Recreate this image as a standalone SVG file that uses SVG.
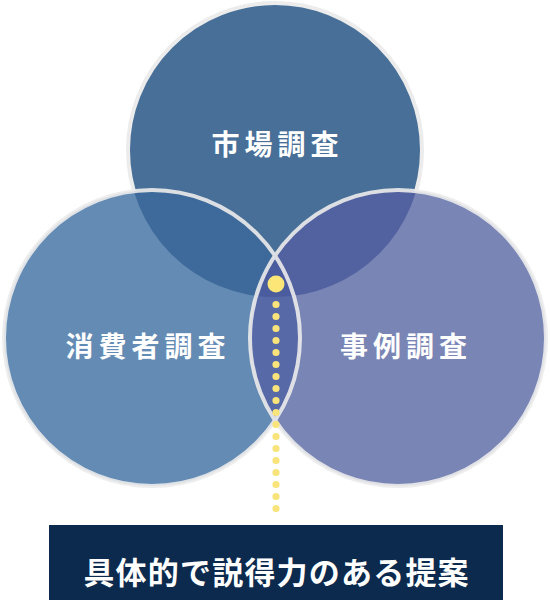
<svg xmlns="http://www.w3.org/2000/svg" width="550" height="602" viewBox="0 0 550 602">
  <style>
    .lbl { font-family: "Noto Sans CJK JP", "Noto Sans", sans-serif; font-weight: 700; fill: #ffffff; text-anchor: middle; }
    .circ { font-size: 28px; letter-spacing: 5px; }
    .ring { fill: none; stroke: #ececec; stroke-width: 4; }
  </style>
  <defs>
    <clipPath id="cTop"><circle cx="275" cy="150" r="147"/></clipPath>
    <clipPath id="cLeft"><circle cx="152" cy="338" r="148"/></clipPath>
    <clipPath id="cRight"><circle cx="398" cy="338" r="148"/></clipPath>
  </defs>
  <rect width="550" height="602" fill="#ffffff"/>

  <g id="market-research">
    <circle cx="275" cy="150" r="147" fill="#476f97" stroke="#ececec" stroke-width="4"/>
  </g>
  <g id="consumer-research">
    <circle cx="152" cy="338" r="148" fill="#648bb4"/>
  </g>
  <g id="case-research">
    <circle cx="398" cy="338" r="148" fill="#7985b5"/>
  </g>

  <g id="overlaps">
    <circle cx="152" cy="338" r="148" fill="#3e6a9b" clip-path="url(#cTop)"/>
    <circle cx="398" cy="338" r="148" fill="#5261a0" clip-path="url(#cTop)"/>
    <circle cx="398" cy="338" r="148" fill="#5869a8" clip-path="url(#cLeft)"/>
    <g clip-path="url(#cTop)">
      <circle cx="398" cy="338" r="148" fill="#4a5c9e" clip-path="url(#cLeft)"/>
    </g>
  </g>

  <g id="rings" opacity="0.9">
    <circle class="ring" cx="152" cy="338" r="148"/>
    <circle class="ring" cx="398" cy="338" r="148"/>
  </g>

  <g id="labels">
    <text class="lbl circ" x="277.5" y="155">市場調査</text>
    <text class="lbl circ" x="148" y="357">消費者調査</text>
    <text class="lbl circ" x="406" y="357">事例調査</text>
  </g>

  <g id="connectors">
    <circle cx="276" cy="284" r="8.5" fill="#fbe677"/>
    <line x1="276" y1="304.5" x2="276" y2="510" stroke="#f8e47a" stroke-width="7.2" stroke-linecap="round" stroke-dasharray="0 12"/>
  </g>

  <g id="proposal">
    <rect x="49" y="525" width="454" height="75" fill="#0c2a4e"/>
    <text class="lbl" x="276.6" y="584" font-size="31" font-weight="500" letter-spacing="1.2">具体的で説得力のある提案</text>
  </g>
</svg>
